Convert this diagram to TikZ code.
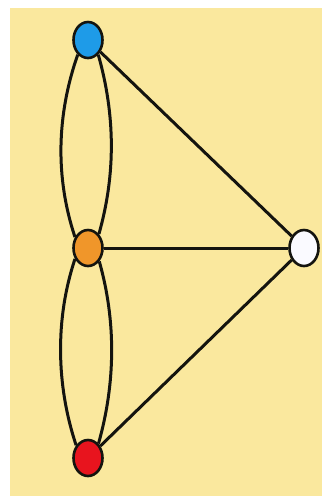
\documentclass[tikz,border=0pt]{standalone}
\usetikzlibrary{shapes.geometric}
\pgfdeclarelayer{bg}
\pgfdeclarelayer{edges}
\pgfsetlayers{bg,edges,main}
\definecolor{paper}{RGB}{250,232,158}
\definecolor{vblue}{RGB}{30,155,232}
\definecolor{vorange}{RGB}{240,150,42}
\definecolor{vred}{RGB}{232,20,30}
\definecolor{vwhite}{RGB}{250,250,255}
\definecolor{ink}{RGB}{20,20,15}
\tikzset{
  vertex/.style={ellipse, draw=ink, line width=2.6pt, minimum width=29pt, minimum height=36pt, inner sep=0pt},
  bridge/.style={draw=ink, line width=3pt}
}
\begin{document}
\begin{tikzpicture}[x=1pt,y=-1pt]
\useasboundingbox (0,0) rectangle (322,496);
\begin{pgfonlayer}{bg}
  \fill[white] (0,0) rectangle (322,496);
  \fill[paper] (10,8) rectangle (322,496);
\end{pgfonlayer}
\node[vertex, fill=vblue] (b) at (88,40) {};
\node[vertex, fill=vorange] (o) at (88,248) {};
\node[vertex, fill=vred] (r) at (88,458) {};
\node[vertex, fill=vwhite] (w) at (304,248) {};
\begin{pgfonlayer}{edges}
  \draw[bridge] (b.235) .. controls +(-21,60) and +(-20,-60) .. (o.140);
  \draw[bridge] (b.305) .. controls +(17,60) and +(17,-60) .. (o.52);
  \draw[bridge] (o.220) .. controls +(-20,60) and +(-20,-60) .. (r.133);
  \draw[bridge] (o.310) .. controls +(17,60) and +(17,-60) .. (r.54);
  \draw[bridge] (b) -- (w);
  \draw[bridge] (o) -- (w);
  \draw[bridge] (r) -- (w);
\end{pgfonlayer}
\end{tikzpicture}
\end{document}
